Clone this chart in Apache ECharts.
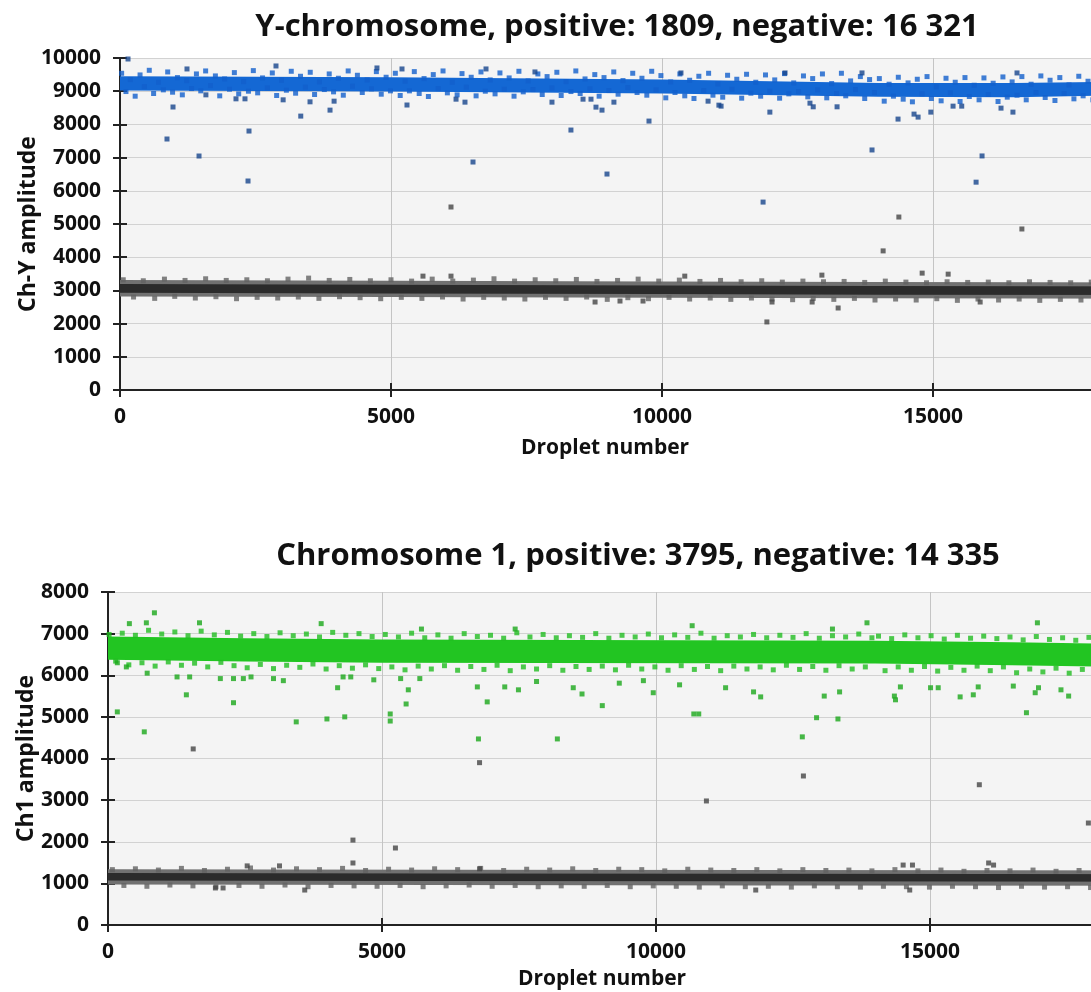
<!DOCTYPE html>
<html>
<head>
<meta charset="utf-8">
<script src="https://cdn.jsdelivr.net/npm/echarts@6/dist/echarts.min.js"></script>
<style>
    html, body { margin: 0; padding: 0; background: #fff; overflow: hidden; }
    #chart { width: 1300px; height: 992px; }
</style>
</head>
<body>
<div id="chart"></div>
<script>
// titles and axis names
const titleY = 'Y-chromosome, positive: 1809, negative: 16 321'
const title1 = 'Chromosome 1, positive: 3795, negative: 14 335'
const yNameTop = 'Ch-Y amplitude'
const yNameBottom = 'Ch1 amplitude'
const xName = 'Droplet number'

// axis ranges (droplet number continues past the right edge)
const xTicks = [0, 5000, 10000, 15000, 20000]
const yTicksTop = [0, 10000, 1000]
const yTicksBottom = [0, 8000, 1000]

// ---- Ch-Y: positive droplets (blue) ----
// dense part of the cloud: [droplet, low, high]
const blueCore = [[0, 9020, 9450], [5000, 8990, 9420], [10000, 8930, 9350], [14000, 8830, 9250], [16500, 8820, 9250], [18000, 8860, 9280], [20000, 8860, 9280]]
const blueBand = [[30,9540],[110,8990],[190,9350],[280,8850],[370,9490],[450,9140],[540,9630],[620,8930],[710,9270],[800,9040],
    [880,9580],[970,8970],[1060,9410],[1150,8890],[1230,9320],[1320,9080],[1410,9520],[1490,9010],[1580,9610],[1670,9170],
    [1760,9460],[1840,8860],[1930,9370],[2020,9060],[2110,9560],[2190,8920],[2280,9290],[2370,9000],[2460,9620],[2540,8950],
    [2630,9400],[2720,9100],[2810,9550],[2890,8870],[2980,9330],[3070,9030],[3160,9600],[3240,8940],[3330,9450],[3420,9120],
    [3510,9570],[3590,8900],[3680,9280],[3770,9050],[3860,9520],[3940,8980],[4030,9390],[4120,8880],[4210,9610],[4290,9150],
    [4380,9480],[4470,8960],[4560,9340],[4640,9070],[4730,9590],[4820,8910],[4910,9420],[4990,9010],[5080,9540],[5170,8870],
    [5260,9300],[5340,9010],[5430,9590],[5520,8930],[5610,9380],[5690,8840],[5780,9500],[5870,9080],[5960,9610],[6040,8950],
    [6130,9270],[6220,8890],[6310,9530],[6390,9120],[6480,9420],[6570,8860],[6660,9580],[6740,9000],[6830,9340],[6920,8920],
    [7010,9550],[7090,9060],[7180,9400],[7270,8850],[7360,9600],[7440,8980],[7530,9310],[7620,9050],[7710,9520],[7790,8900],
    [7880,9440],[7970,9100],[8060,9570],[8140,8870],[8230,9290],[8320,8990],[8410,9610],[8490,8930],[8580,9370],[8670,9070],
    [8760,9500],[8840,8850],[8930,9410],[9020,9020],[9110,9580],[9190,8910],[9280,9320],[9370,9110],[9460,9540],[9540,8960],
    [9630,9390],[9720,8880],[9810,9600],[9890,9040],[9980,9470],[10070,8800],[10160,9280],[10240,8960],[10330,9520],[10420,8860],
    [10510,9330],[10590,8780],[10680,9450],[10770,9020],[10860,9540],[10940,8880],[11030,9220],[11120,8820],[11210,9480],[11290,9060],
    [11380,9360],[11470,8790],[11560,9510],[11640,8940],[11730,9270],[11820,8850],[11910,9490],[11990,9000],[12080,9340],[12170,8790],
    [12260,9530],[12340,8920],[12430,9250],[12520,8990],[12610,9460],[12690,8830],[12780,9380],[12870,9040],[12960,9520],[13040,8800],
    [13130,9230],[13220,8930],[13310,9540],[13390,8860],[13480,9310],[13570,9050],[13660,9440],[13740,8780],[13830,9350],[13920,8960],
    [14010,9380],[14100,8700],[14190,9210],[14270,8850],[14360,9420],[14450,8760],[14540,9250],[14620,8680],[14710,9360],[14800,8920],
    [14890,9440],[14970,8780],[15060,9130],[15150,8710],[15240,9390],[15320,8950],[15410,9270],[15500,8690],[15590,9410],[15670,8840],
    [15760,9180],[15850,8740],[15940,9400],[16020,8900],[16110,9240],[16200,8690],[16290,9430],[16370,8820],[16460,9280],[16550,8880],
    [16640,9440],[16720,8740],[16810,9210],[16900,8960],[16990,9460],[17070,8810],[17160,9330],[17250,8720],[17340,9410],[17420,8930],
    [17510,9190],[17600,8770],[17690,9450],[17770,8860],[17860,9300],[17950,8740]]
const blueLoose = [[148,9970],[978,8524],[867,7560],[1458,7048],[2380,7800],[2362,6295],[3335,8250],[2878,9760],[3875,8430],
    [1236,9670],[4741,9700],[2140,8770],[2306,8770],[3010,8740],[3506,8680],[3950,8700],[1585,8890],[5295,8584],[6200,8760],
    [6365,8670],[6513,6867],[6753,9670],[5203,9670],[7970,8670],[8320,7830],[8543,8760],[8690,8760],[8782,8520],[8893,8430],
    [8985,6505],[9113,8670],[9760,8100],[10850,8700],[11050,8580],[7656,9580],[10350,9550],[11090,8550],[11990,8370],[13230,8530],
    [12790,8530],[12730,8640],[14355,8160],[14650,8310],[14725,8220],[14960,8370],[13875,7230],[15905,7050],[15795,6260],
    [11865,5660],[15370,8550],[15530,8550],[16255,8490],[16475,8370],[13690,9550],[12270,9550],[16550,9550]]

// ---- Ch-Y: negative droplets (grey) ----
const greyTopOuter = [[0, 2820, 3310], [5000, 2800, 3290], [10000, 2780, 3270], [14000, 2760, 3250], [20000, 2750, 3240]]
const greyTopInner = [[0, 2930, 3190], [5000, 2910, 3170], [10000, 2890, 3150], [14000, 2870, 3130], [20000, 2860, 3120]]
const greyTopBand = [[60,3320],[250,2800],[430,3290],[640,2760],[820,3340],[1010,2820],[1200,3300],[1390,2770],[1580,3350],
    [1770,2810],[1960,3300],[2150,2750],[2340,3320],[2530,2790],[2720,3290],[2910,2770],[3100,3340],[3290,2800],[3480,3370],
    [3670,2760],[3860,3300],[4050,2810],[4240,3330],[4430,2780],[4620,3290],[4810,2750],[5000,3320],[5190,2790],[5380,3280],
    [5570,2760],[5760,3340],[5950,2800],[6140,3280],[6330,2740],[6520,3310],[6710,2790],[6900,3350],[7090,2770],[7280,3280],
    [7470,2740],[7660,3320],[7850,2790],[8040,3290],[8230,2760],[8420,3330],[8610,2800],[8800,3270],[8990,2730],[9180,3300],
    [9370,2780],[9560,3340],[9750,2750],[9940,3280],[10130,2790],[10320,3310],[10510,2740],[10700,3270],[10890,2770],[11080,3300],
    [11270,2730],[11460,3260],[11650,2770],[11840,3290],[12030,2740],[12220,3250],[12410,2720],[12600,3280],[12790,2760],
    [12980,3260],[13170,2730],[13360,3270],[13550,2760],[13740,3240],[13930,2710],[14120,3280],[14310,2740],[14500,3250],
    [14690,2710],[14880,3230],[15070,2750],[15260,3260],[15450,2700],[15640,3240],[15830,2740],[16020,3250],[16210,2710],
    [16400,3230],[16590,2740],[16780,3260],[16970,2700],[17160,3240],[17350,2730],[17540,3230],[17730,2710],[17920,3250]]
const greyTopLoose = [[6107,5512],[14370,5210],[14080,4190],[16640,4850],[6107,3430],[10420,3430],[5590,3430],[8765,2650],
    [9225,2680],[9650,2680],[11935,2050],[12030,2650],[12770,2650],[13250,2470],[14800,3520],[15280,3490],[12950,3460],[15870,2650]]

// ---- Ch1: positive droplets (green) ----
const greenCore = [[0, 6370, 6930], [2500, 6330, 6890], [5000, 6300, 6860], [14000, 6280, 6830], [16500, 6240, 6790], [18000, 6210, 6760], [20000, 6210, 6760]]
const greenBand = [[20,6980],[140,6340],[260,7010],[380,6250],[500,6960],[620,6300],[740,7080],[860,6220],[980,6990],[1100,6320],
    [1220,7040],[1340,6240],[1460,6950],[1580,6290],[1700,7060],[1820,6200],[1940,6970],[2060,6310],[2180,7030],[2300,6230],
    [2420,6940],[2540,6180],[2660,7000],[2780,6260],[2900,6930],[3020,6160],[3140,7020],[3260,6240],[3380,6950],[3500,6190],
    [3620,6990],[3740,6270],[3860,6920],[3980,6150],[4100,7030],[4220,6230],[4340,6960],[4460,6170],[4580,7000],[4700,6250],
    [4820,6930],[4940,6160],[5060,6980],[5180,6200],[5300,6920],[5420,6130],[5540,7010],[5660,6220],[5780,6900],[5900,6150],
    [6020,6970],[6140,6230],[6260,6890],[6380,6120],[6500,7000],[6620,6210],[6740,6930],[6860,6140],[6980,6960],[7100,6240],
    [7220,6890],[7340,6110],[7460,7020],[7580,6200],[7700,6920],[7820,6150],[7940,6980],[8060,6230],[8180,6900],[8300,6120],
    [8420,6950],[8540,6210],[8660,6910],[8780,6140],[8900,7000],[9020,6220],[9140,6890],[9260,6130],[9380,6960],[9500,6240],
    [9620,6920],[9740,6150],[9860,6990],[9980,6200],[10100,6900],[10220,6120],[10340,6970],[10460,6230],[10580,6910],[10700,6140],
    [10820,7010],[10940,6210],[11060,6890],[11180,6110],[11300,6950],[11420,6220],[11540,6920],[11660,6150],[11780,6980],[11900,6200],
    [12020,6900],[12140,6130],[12260,6960],[12380,6240],[12500,6910],[12620,6140],[12740,7000],[12860,6210],[12980,6890],[13100,6120],
    [13220,6950],[13340,6230],[13460,6920],[13580,6150],[13700,6990],[13820,6200],[13940,6900],[14060,6940],[14180,6110],[14300,6880],
    [14420,6200],[14540,6970],[14660,6120],[14780,6900],[14900,6210],[15020,6950],[15140,6100],[15260,6870],[15380,6190],[15500,6960],
    [15620,6120],[15740,6890],[15860,6220],[15980,6940],[16100,6110],[16220,6880],[16340,6200],[16460,6920],[16580,6060],[16700,6850],
    [16820,6150],[16940,6930],[17060,6080],[17180,6860],[17300,6170],[17420,6900],[17540,6050],[17660,6840],[17780,6140],[17900,6910]]
const greenLoose = [[170,5120],[662,4640],[847,7500],[1430,5530],[2290,5340],[3435,4880],[3995,4950],[4320,5000],[700,7260],
    [390,7240],[1670,7260],[3890,7240],[170,6300],[335,6200],[715,6050],[1260,5960],[1490,5960],[2050,5920],[2290,5920],
    [2470,5920],[2610,5960],[3020,5920],[3200,5870],[4190,5700],[4290,5960],[4430,5960],[4850,5890],[5150,5070],[5150,4900],
    [5440,5310],[5480,5650],[6760,4470],[8200,4470],[6920,5360],[6740,5720],[9020,5270],[8650,5550],[8490,5700],[9950,5580],
    [10690,5070],[10780,5070],[7240,5720],[7490,5650],[5720,7110],[7430,7110],[10660,7190],[5340,5920],[5690,5920],[7820,5850],
    [9330,5810],[9770,5870],[10430,5770],[12670,4520],[12930,4980],[13320,4950],[16760,5100],[13850,7260],[16960,7260],
    [13220,7110],[11270,5700],[11780,5600],[11910,5480],[13070,5500],[13350,5600],[14350,5500],[14370,5410],[14460,5720],
    [15010,5700],[15150,5700],[15550,5480],[15790,5530],[15880,5720],[16920,5580],[16980,5700],[17530,5500],[17390,5650],[16520,5740]]

// ---- Ch1: negative droplets (grey) ----
const greyBotOuter = [[0, 970, 1340], [6000, 960, 1330], [12000, 950, 1320], [20000, 940, 1310]]
const greyBotInner = [[0, 1070, 1250], [6000, 1060, 1240], [12000, 1050, 1230], [20000, 1040, 1220]]
const greyBotBand = [[80,1330],[290,950],[500,1350],[710,930],[920,1320],[1130,960],[1340,1360],[1550,940],[1760,1310],[1970,920],
    [2180,1340],[2390,950],[2600,1370],[2810,930],[3020,1320],[3230,960],[3440,1350],[3650,920],[3860,1330],[4070,950],
    [4280,1360],[4490,940],[4700,1310],[4910,930],[5120,1340],[5330,950],[5540,1320],[5750,920],[5960,1350],[6170,940],
    [6380,1330],[6590,960],[6800,1360],[7010,930],[7220,1310],[7430,950],[7640,1340],[7850,920],[8060,1320],[8270,940],
    [8480,1350],[8690,930],[8900,1310],[9110,950],[9320,1340],[9530,920],[9740,1330],[9950,940],[10160,1300],[10370,930],
    [10580,1340],[10790,910],[11000,1320],[11210,940],[11420,1310],[11630,920],[11840,1330],[12050,930],[12260,1300],[12470,910],
    [12680,1330],[12890,940],[13100,1310],[13310,920],[13520,1320],[13730,910],[13940,1300],[14150,930],[14360,1330],[14570,920],
    [14780,1300],[14990,910],[15200,1320],[15410,930],[15620,1290],[15830,920],[16040,1310],[16250,900],[16460,1300],[16670,930],
    [16880,1320],[17090,910],[17300,1290],[17510,920],[17720,1310],[17930,900]]
const greyBotLoose = [[1555,4230],[6780,3900],[5245,1850],[10920,2980],[12690,3580],[15900,3370],[17890,2450],[4470,2040],
    [4470,1490],[2540,1420],[3130,1420],[1960,890],[2100,890],[3590,840],[6780,1350],[14510,1440],[14680,1440],[16070,1490],
    [16160,1440],[11820,840],[14630,840]]

const font = 'Open Sans'
const tickLabel = {fontFamily: font, fontWeight: 'bold', fontSize: 21, color: '#111', formatter: (v) => String(v)}

const xAxes = (gridIndex) => [{
    gridIndex: gridIndex,
    type: 'value',
    position: 'bottom',
    min: xTicks[0],
    max: xTicks[xTicks.length - 1],
    interval: xTicks[1] - xTicks[0],
    axisLine: {lineStyle: {color: '#222', width: 2}},
    axisTick: {inside: true, length: 7, lineStyle: {color: '#222', width: 2}},
    axisLabel: Object.assign({margin: 17}, tickLabel),
    splitLine: {show: true, lineStyle: {color: '#c4c4c4', width: 1}}
}, {
    gridIndex: gridIndex,
    type: 'value',
    position: 'top',
    min: xTicks[0],
    max: xTicks[xTicks.length - 1],
    interval: xTicks[1] - xTicks[0],
    axisLine: {lineStyle: {color: '#222', width: 2}},
    axisTick: {inside: true, length: 7, lineStyle: {color: '#222', width: 2}},
    axisLabel: {show: false},
    splitLine: {show: false}
}]

const yAxes = (gridIndex, ticks, name, gap) => [{
    gridIndex: gridIndex,
    type: 'value',
    min: ticks[0],
    max: ticks[1],
    interval: ticks[2],
    name: name,
    nameLocation: 'middle',
    nameGap: gap,
    nameMoveOverlap: false,
    nameTextStyle: {fontFamily: font, fontWeight: 'bold', fontSize: 23, color: '#111'},
    axisLine: {show: true, lineStyle: {color: '#222', width: 2}},
    axisTick: {show: true, length: 7, lineStyle: {color: '#222', width: 2}},
    axisLabel: Object.assign({margin: 19}, tickLabel),
    splitLine: {show: true, lineStyle: {color: '#d2d2d2', width: 1}}
}, {
    gridIndex: gridIndex,
    type: 'value',
    position: 'left',
    min: ticks[0],
    max: ticks[1],
    interval: ticks[2],
    axisLine: {show: false},
    axisTick: {show: true, inside: true, length: 7, lineStyle: {color: '#222', width: 2}},
    axisLabel: {show: false},
    splitLine: {show: false}
}]

// dense body of a droplet cloud, drawn as one polygon through the axes
const cloud = (name, axis, edges, color) => ({
    name: name,
    type: 'custom',
    xAxisIndex: axis,
    yAxisIndex: axis,
    data: edges,
    encode: {x: 0, y: [1, 2]},
    silent: true,
    clip: true,
    renderItem: (params, api) => {
        if (params.dataIndex !== 0) return
        const top = edges.map(e => api.coord([e[0], e[2]]))
        const bottom = edges.map(e => api.coord([e[0], e[1]])).reverse()
        return {type: 'polygon', shape: {points: top.concat(bottom)}, style: {fill: color}}
    }
})

const dots = (name, axis, data, color) => ({
    name: name,
    type: 'scatter',
    xAxisIndex: axis,
    yAxisIndex: axis,
    data: data,
    symbol: 'rect',
    symbolSize: 5,
    silent: true,
    itemStyle: {color: color}
})

const option = {
    animation: false,
    backgroundColor: '#fff',
    title: [
        {text: titleY, left: 612, top: 7, textAlign: 'center', textStyle: {fontFamily: font, fontWeight: 'bold', fontSize: 31, color: '#111'}},
        {text: xName, left: 600, top: 433, textAlign: 'center', textStyle: {fontFamily: font, fontWeight: 'bold', fontSize: 21, color: '#111'}},
        {text: title1, left: 633, top: 536, textAlign: 'center', textStyle: {fontFamily: font, fontWeight: 'bold', fontSize: 31, color: '#111'}},
        {text: xName, left: 597, top: 964, textAlign: 'center', textStyle: {fontFamily: font, fontWeight: 'bold', fontSize: 21, color: '#111'}}
    ],
    grid: [
        {left: 120, top: 58, width: 1084, height: 332, show: true, backgroundColor: '#f4f4f4', borderWidth: 0},
        {left: 108, top: 592, width: 1096, height: 333, show: true, backgroundColor: '#f4f4f4', borderWidth: 0}
    ],
    xAxis: xAxes(0).concat(xAxes(1)),
    yAxis: yAxes(0, yTicksTop, yNameTop, 80).concat(yAxes(1, yTicksBottom, yNameBottom, 70)),
    series: [
        cloud('Ch-Y negative outer', 0, greyTopOuter, '#717171'),
        cloud('Ch-Y negative inner', 0, greyTopInner, '#2b2b2b'),
        dots('Ch-Y negative', 0, greyTopBand, '#636363'),
        dots('Ch-Y negative loose', 0, greyTopLoose, '#454545'),
        cloud('Ch-Y positive core', 0, blueCore, '#1468d4'),
        dots('Ch-Y positive', 0, blueBand, '#115fcc'),
        dots('Ch-Y positive loose', 0, blueLoose, '#17458c'),
        cloud('Ch1 negative outer', 2, greyBotOuter, '#717171'),
        cloud('Ch1 negative inner', 2, greyBotInner, '#2b2b2b'),
        dots('Ch1 negative', 2, greyBotBand, '#636363'),
        dots('Ch1 negative loose', 2, greyBotLoose, '#454545'),
        cloud('Ch1 positive core', 2, greenCore, '#22c522'),
        dots('Ch1 positive', 2, greenBand, '#20bd20'),
        dots('Ch1 positive loose', 2, greenLoose, '#1aa81a')
    ]
}

const myChart = echarts.init(document.getElementById('chart'))
myChart.setOption(option)
window.addEventListener('resize', () => {
    myChart.resize()
})
</script>
</body>
</html>
